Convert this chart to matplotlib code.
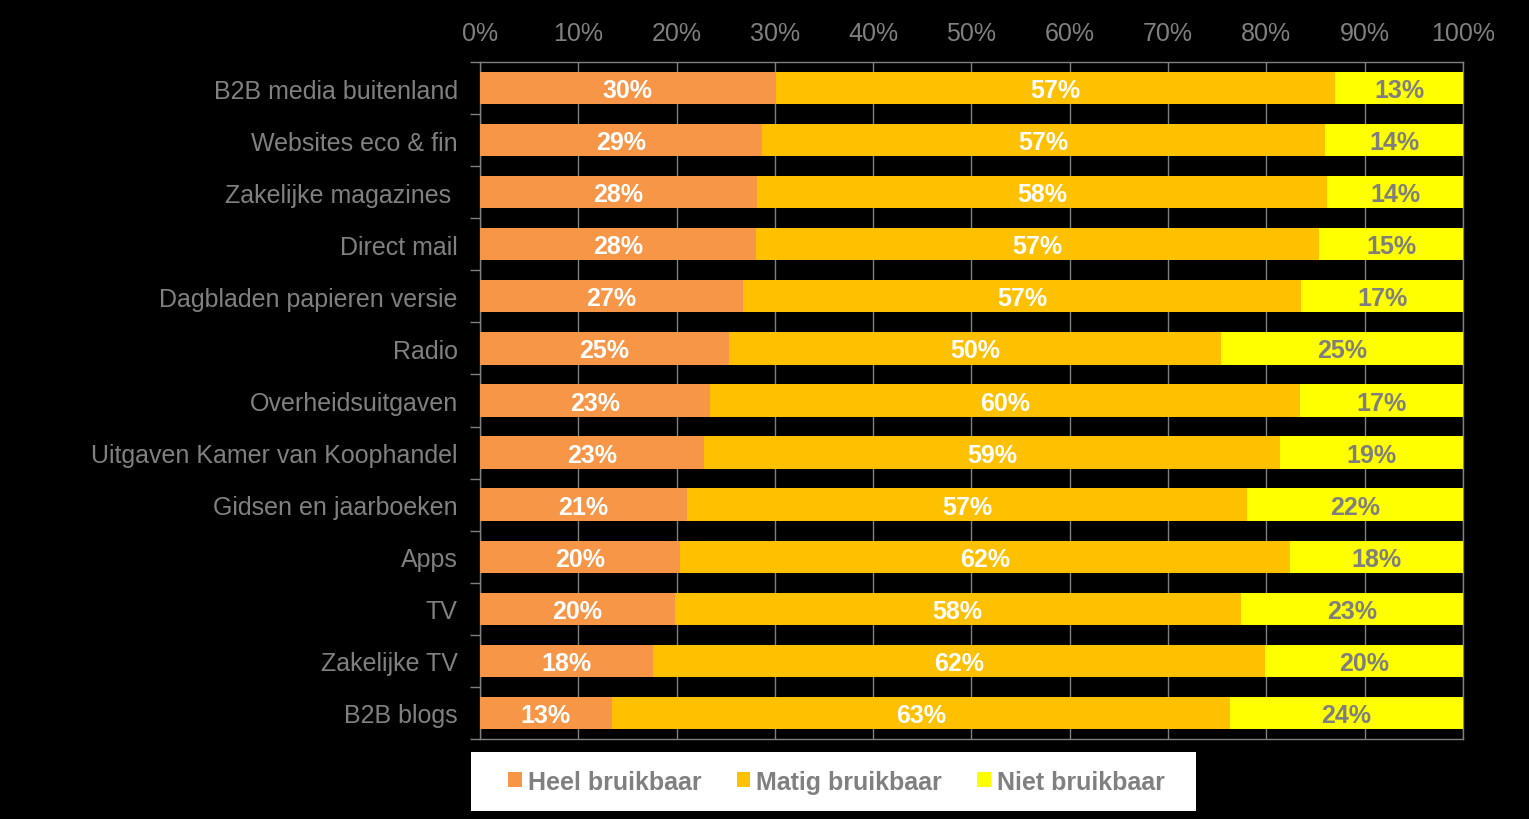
import matplotlib.pyplot as plt
import numpy as np
from matplotlib.patches import Patch, Rectangle

categories = [
    "B2B media buitenland",
    "Websites eco & fin",
    "Zakelijke magazines ",
    "Direct mail",
    "Dagbladen papieren versie",
    "Radio",
    "Overheidsuitgaven",
    "Uitgaven Kamer van Koophandel",
    "Gidsen en jaarboeken",
    "Apps",
    "TV",
    "Zakelijke TV",
    "B2B blogs",
]
heel = [30.1, 28.7, 28.2, 28.1, 26.8, 25.3, 23.4, 22.8, 21.1, 20.3, 19.8, 17.6, 13.4]
matig = [56.9, 57.3, 58.0, 57.3, 56.7, 50.1, 60.0, 58.6, 56.9, 62.1, 57.6, 62.3, 62.9]
niet = [13.0, 14.0, 13.8, 14.6, 16.6, 24.6, 16.6, 18.6, 22.0, 17.6, 22.6, 20.1, 23.7]
series_names = ["Heel bruikbaar", "Matig bruikbaar", "Niet bruikbaar"]
colors = ["#F79646", "#FFC000", "#FFFF00"]
text_colors = ["white", "white", "#7F7F7F"]

plt.rcParams['font.family'] = ['Liberation Sans', 'DejaVu Sans']
narrow = ['Liberation Sans Narrow', 'Liberation Sans', 'DejaVu Sans']
grey = "#808080"

fig = plt.figure(figsize=(15.29, 8.2), dpi=100, facecolor="black")
ax = fig.add_axes([0.3139, 0.0976, 0.6429, 0.8256], facecolor="black")

y = np.arange(len(categories))
left = np.zeros(len(categories))
for vals, name, col, tcol in zip([heel, matig, niet], series_names, colors, text_colors):
    vals = np.array(vals)
    ax.barh(y, vals, left=left, height=0.62, color=col, label=name, zorder=3)
    for yi, (l, v) in enumerate(zip(left, vals)):
        ax.text(l + v / 2, yi + 0.04, f"{round(v):.0f}%", ha="center", va="center",
                color=tcol, fontsize=18, fontweight="bold", family=narrow, zorder=4)
    left += vals

ax.set_xlim(0, 100)
ax.set_ylim(len(categories) - 0.5, -0.5)
ax.set_xticks(np.arange(0, 101, 10))
ax.set_xticklabels([f"{t}%" for t in range(0, 101, 10)])
ax.xaxis.tick_top()
ax.tick_params(axis="x", length=0, pad=12, labelsize=18, labelcolor=grey)
ax.set_yticks(y)
ax.set_yticklabels(categories)
ax.tick_params(axis="y", length=0, pad=16, labelsize=18, labelcolor=grey)
ax.set_yticks(np.arange(-0.5, len(categories), 1), minor=True)
ax.tick_params(axis="y", which="minor", length=7, color=grey, width=1)
ax.grid(axis="x", color=grey, linewidth=1, zorder=0)
for s in ax.spines.values():
    s.set_color(grey)
    s.set_linewidth(1)

# white legend box
fig.patches.append(Rectangle((471 / 1529, 1 - 812 / 820), 725 / 1529, 59 / 820,
                             transform=fig.transFigure, facecolor="white",
                             edgecolor="none", zorder=0))
handles = [Patch(facecolor=c, edgecolor="none", label=n) for c, n in zip(colors, series_names)]
leg = fig.legend(handles=handles, loc="center", bbox_to_anchor=(836.5 / 1529, 0.0457),
                 ncol=3, frameon=False,
                 handlelength=0.55, handleheight=0.55, handletextpad=0.25, columnspacing=1.4,
                 borderpad=0.3, prop={'family': narrow, 'weight': 'bold', 'size': 18})
for t in leg.get_texts():
    t.set_color(grey)

fig.savefig("out.png", dpi=100, facecolor="black")
